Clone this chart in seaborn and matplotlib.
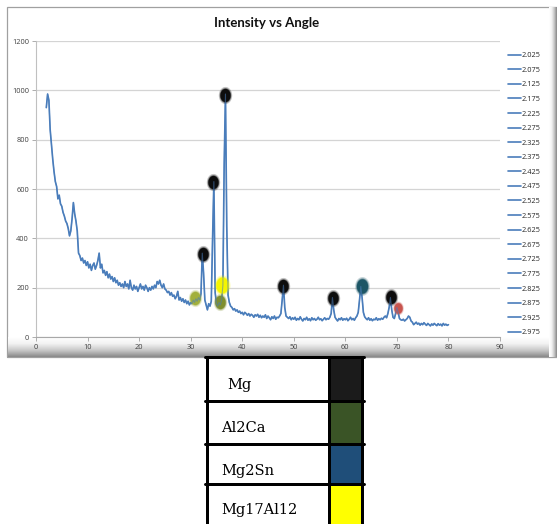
import numpy as np
import pandas as pd
import matplotlib
matplotlib.use("Agg")
import matplotlib.pyplot as plt
import seaborn as sns
from matplotlib.lines import Line2D
from matplotlib.patches import Rectangle
from matplotlib.colors import LinearSegmentedColormap

# ---------------- data ----------------
# 2-theta scan grid (instrument step 0.25 deg, 2..80)
scan_start, scan_step = 2.0, 0.25
intensity = [
    930, 985, 960, 840,   # 2
    780, 720, 670, 630,   # 3
    610, 560, 575, 540,   # 4
    530, 505, 490, 470,   # 5
    460, 440, 410, 430,   # 6
    480, 545, 500, 470,   # 7
    430, 340, 330, 310,   # 8
    320, 300, 310, 290,   # 9
    305, 280, 295, 270,   # 10
    290, 300, 275, 290,   # 11
    310, 340, 280, 295,   # 12
    260, 270, 250, 265,   # 13
    240, 255, 235, 245,   # 14
    225, 240, 220, 230,   # 15
    210, 220, 205, 215,   # 16
    200, 225, 205, 215,   # 17
    195, 230, 200, 190,   # 18
    210, 195, 205, 185,   # 19
    200, 215, 195, 205,   # 20
    190, 210, 200, 185,   # 21
    200, 190, 205, 195,   # 22
    210, 200, 225, 215,   # 23
    230, 210, 200, 215,   # 24
    195, 190, 180, 185,   # 25
    170, 180, 165, 170,   # 26
    155, 165, 185, 150,   # 27
    160, 145, 155, 140,   # 28
    150, 135, 145, 130,   # 29
    140, 135, 150, 140,   # 30
    155, 145, 160, 150,   # 31
    175, 340, 260, 150,   # 32
    130, 110, 135, 125,   # 33
    145, 400, 630, 180,   # 34
    135, 125, 140, 130,   # 35
    150, 210, 700, 985,   # 36
    450, 170, 140, 125,   # 37
    120, 110, 115, 105,   # 38
    110, 100, 105, 95,    # 39
    100, 90, 100, 95,     # 40
    88, 95, 85, 92,       # 41
    88, 80, 90, 85,       # 42
    92, 80, 88, 78,       # 43
    85, 80, 90, 75,       # 44
    85, 78, 70, 82,       # 45
    75, 85, 72, 80,       # 46
    78, 85, 95, 150,      # 47
    210, 120, 85, 80,     # 48
    75, 82, 70, 78,       # 49
    72, 80, 68, 75,       # 50
    70, 82, 72, 65,       # 51
    75, 70, 80, 68,       # 52
    74, 66, 78, 70,       # 53
    75, 68, 72, 80,       # 54
    70, 74, 66, 72,       # 55
    78, 70, 75, 72,       # 56
    80, 95, 160, 110,     # 57
    80, 72, 65, 75,       # 58
    70, 78, 68, 74,       # 59
    70, 76, 66, 72,       # 60
    80, 70, 75, 68,       # 61
    78, 85, 100, 150,     # 62
    205, 160, 100, 82,    # 63
    75, 70, 78, 68,       # 64
    74, 66, 72, 70,       # 65
    78, 68, 74, 70,       # 66
    76, 72, 80, 85,       # 67
    78, 95, 120, 160,     # 68
    110, 80, 75, 95,      # 69
    120, 100, 75, 70,     # 70
    68, 72, 65, 70,       # 71
    75, 85, 80, 65,       # 72
    60, 50, 55, 60,       # 73
    52, 56, 48, 55,       # 74
    50, 58, 52, 47,       # 75
    55, 50, 45, 53,       # 76
    48, 55, 50, 46,       # 77
    54, 48, 52, 45,       # 78
    55, 48, 52, 47,       # 79
    50,                   # 80
]
angle = scan_start + scan_step * np.arange(len(intensity))

# phase markers
mark_angle = [32.3, 34.4, 36.7, 48.0, 57.6, 68.9, 63.2, 70.2, 30.9, 35.6, 36.0]
mark_int = [336, 630, 981, 207, 158, 163, 207, 119, 158, 143, 211]
mark_color = ["#0d0d0d", "#0d0d0d", "#0d0d0d", "#0d0d0d", "#0d0d0d", "#0d0d0d",
              "#1d5666", "#c8544e", "#a2b03c", "#7f8f2f", "#f5f500"]
mark_size = [1.0, 1.0, 1.0, 1.0, 1.0, 1.0, 1.1, 0.8, 1.0, 1.0, 1.2]

legend_labels = ["2.025", "2.075", "2.125", "2.175", "2.225", "2.275", "2.325",
                 "2.375", "2.425", "2.475", "2.525", "2.575", "2.625", "2.675",
                 "2.725", "2.775", "2.825", "2.875", "2.925", "2.975"]

x_ticks = [0, 10, 20, 30, 40, 50, 60, 70, 80, 90]
y_ticks = [0, 200, 400, 600, 800, 1000, 1200]

phases = ["Mg", "Al2Ca", "Mg2Sn", "Mg17Al12"]
phase_colors = ["#1b1b1b", "#3a5426", "#1f4e79", "#ffff00"]

title = "Intensity vs Angle"

# ---------------- figure ----------------
sns.set_theme(style="white")
plt.rcParams["font.family"] = ["Open Sans", "DejaVu Sans"]

W, H = 557, 524
fig = plt.figure(figsize=(W / 100, H / 100), dpi=100)
fig.patch.set_facecolor("white")


def fx(px):
    return px / W


def fy(py):
    return 1 - py / H


# chart frame
fig.patches.append(Rectangle((fx(7), fy(357)), 552 / W, 350 / H, transform=fig.transFigure,
                             fill=False, edgecolor="#a0a0a0", lw=0.9, zorder=0))
# bottom shadow gradient
shade = LinearSegmentedColormap.from_list("shade", ["#ffffff", "#f2f2f2", "#c8c8c8", "#8a8a8a"])
gax = fig.add_axes([fx(8), fy(357), 549 / W, 20 / H])
gax.imshow(np.linspace(0, 1, 50).reshape(-1, 1), aspect="auto", cmap=shade,
           extent=[0, 1, 1, 0])
gax.axis("off")
gax.set_zorder(1)
# right shadow gradient
rax = fig.add_axes([fx(549), fy(357), 8 / W, 350 / H])
rax.imshow(np.linspace(0, 1, 20).reshape(1, -1), aspect="auto", cmap=shade,
           extent=[0, 1, 0, 1])
rax.axis("off")
rax.set_zorder(1)

ax = fig.add_axes([fx(36), fy(337), 464 / W, 296 / H])
ax.set_zorder(2)
ax.patch.set_alpha(0)

df = pd.DataFrame({"angle": angle, "intensity": intensity})
sns.lineplot(data=df, x="angle", y="intensity", ax=ax, color="#4a7dbb", lw=1.2, zorder=3)

# phase markers (soft blurred ellipses)
t = np.linspace(0, 2 * np.pi, 40)
ell = np.column_stack([0.78 * np.cos(t), np.sin(t)])
for a, v, c, s in zip(mark_angle, mark_int, mark_color, mark_size):
    for scale, alpha in [(1.3, 0.25), (1.12, 0.5), (1.0, 1.0)]:
        ax.scatter([a], [v], s=(9.5 * s * scale) ** 2, marker=ell, color=c,
                   alpha=alpha, lw=0, zorder=4)
# line shows faintly through the markers
ax.plot(angle, intensity, color="#4a7dbb", lw=0.8, alpha=0.55, zorder=5)

ax.set_xlim(0, 90)
ax.set_ylim(0, 1200)
ax.set_xticks(x_ticks)
ax.set_yticks(y_ticks)
ax.set_xticklabels([str(v) for v in x_ticks])
ax.set_yticklabels([str(v) for v in y_ticks])
ax.set_xlabel("")
ax.set_ylabel("")
ax.grid(axis="y", color="#d4d4d4", lw=0.9)
ax.grid(axis="x", visible=False)
for sp in ["top", "right"]:
    ax.spines[sp].set_visible(False)
ax.spines["left"].set_color("#c0c0c0")
ax.spines["bottom"].set_color("#a8a8a8")
ax.spines["left"].set_linewidth(0.8)
ax.spines["bottom"].set_linewidth(0.8)
ax.tick_params(axis="both", which="major", labelsize=5.3, colors="#a0a0a0",
               labelcolor="#404040", length=3, width=0.6, direction="out",
               left=True, bottom=True, pad=2)

fig.text(fx(267), fy(23), title, ha="center", va="center", fontsize=9.5,
         fontweight="bold", color="#111111", family=["Lato", "DejaVu Sans"])

handles = [Line2D([], [], color="#4a7dbb", lw=1.2) for _ in legend_labels]
fig.legend(handles, legend_labels, loc="upper left", bbox_to_anchor=(fx(508), fy(52)),
           frameon=False, fontsize=5.3, handlelength=1.7, handletextpad=0.2,
           labelspacing=1.01, borderaxespad=0, borderpad=0)

# ---------------- phase table ----------------
row_edges = [357, 400.5, 444, 483.5, 526]
x_left, x_mid, x_right = 206.5, 329, 362
lw_px = 3
for i, (name, col) in enumerate(zip(phases, phase_colors)):
    top, bot = row_edges[i], row_edges[i + 1]
    fig.patches.append(Rectangle((fx(x_mid), fy(bot)), (x_right - x_mid) / W, (bot - top) / H,
                                 transform=fig.transFigure, facecolor=col, edgecolor="none",
                                 zorder=3))
for r in row_edges:
    fig.add_artist(Line2D([fx(x_left - 1.5), fx(x_right + 1.5)], [fy(r), fy(r)],
                          transform=fig.transFigure, color="black", lw=lw_px * 0.72, zorder=4))
for c in [x_left, x_mid, x_right]:
    fig.add_artist(Line2D([fx(c), fx(c)], [fy(row_edges[0]), fy(row_edges[-1])],
                          transform=fig.transFigure, color="black", lw=lw_px * 0.72, zorder=4))

text_x = [227, 221, 221, 221]
text_base = [389, 432, 475, 514]
for name, tx, tb in zip(phases, text_x, text_base):
    fig.text(fx(tx), fy(tb), name, ha="left", va="baseline", fontsize=10.5,
             family=["DejaVu Serif"], color="black")

fig.savefig("out.png", dpi=100)
